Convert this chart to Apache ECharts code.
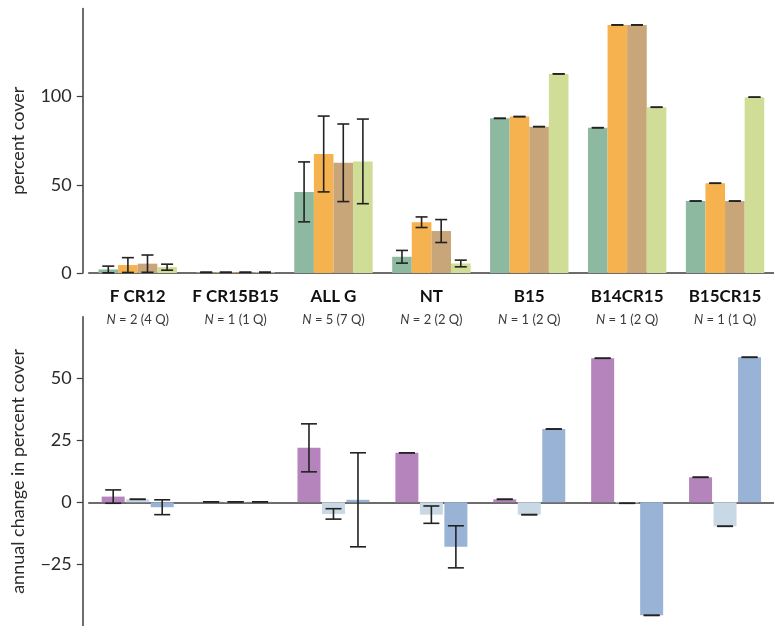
<!DOCTYPE html>
<html>
<head>
<meta charset="utf-8">
<script src="https://cdn.jsdelivr.net/npm/echarts@6/dist/echarts.min.js"></script>
<style>
  html, body { margin: 0; padding: 0; background: #fff; }
  #chart { width: 774px; height: 626px; }
</style>
</head>
<body>
<div id="chart"></div>
<script>
// Site groups along the shared category axis
const categories = ['F CR12', 'F CR15B15', 'ALL G', 'NT', 'B15', 'B14CR15', 'B15CR15'];
const sampleSizes = ['2 (4 Q)', '1 (1 Q)', '5 (7 Q)', '2 (2 Q)', '1 (2 Q)', '1 (2 Q)', '1 (1 Q)'];

// Percent cover, four surveys per group (mean and standard error)
const coverSurvey1 = [2.0, 0.4, 46.0, 9.2, 87.7, 82.4, 40.8];
const coverSurvey2 = [4.5, 0.4, 67.5, 28.8, 88.7, 140.7, 50.9];
const coverSurvey3 = [5.3, 0.4, 62.5, 23.8, 83.0, 140.7, 40.8];
const coverSurvey4 = [3.3, 0.4, 63.3, 5.4, 112.9, 94.0, 99.7];
const coverErr1 = [1.9, 0, 17.0, 3.6, 0, 0, 0];
const coverErr2 = [4.2, 0, 21.5, 3.0, 0, 0, 0];
const coverErr3 = [4.9, 0, 22.0, 6.5, 0, 0, 0];
const coverErr4 = [1.7, 0, 24.0, 1.9, 0, 0, 0];

// Annual change in percent cover, three intervals per group
const changeInterval1 = [2.3, 0.2, 22.0, 20.0, 1.2, 58.2, 10.1];
const changeInterval2 = [1.2, 0.2, -4.7, -5.0, -5.0, -0.4, -9.7];
const changeInterval3 = [-2.0, 0.2, 1.0, -18.0, 29.6, -45.7, 58.6];
const changeErr1 = [2.7, 0, 9.7, 0, 0, 0, 0];
const changeErr2 = [0, 0, 2.1, 3.5, 0, 0, 0];
const changeErr3 = [3.0, 0, 19.0, 8.5, 0, 0, 0];

// Axis ticks
const coverTicks = { min: 0, max: 150, interval: 50 };
const changeTicks = { min: -50, max: 75, interval: 25 };

const FONT = 'Lato';
const AXIS_COLOR = '#3c3c3c';

const coverColors = ['#8cb9a0', '#f6b24f', '#c9a57a', '#cfdd97'];
const changeColors = ['#b684bd', '#c9d8e5', '#98b3d6'];

const TOP_BAR_W = 19.6;
const BOT_BAR_W = 23;
const BOT_GAP = 1.5;

function errorBars(xAxisIndex, yAxisIndex, means, errs, offset, capHalf) {
  return {
    type: 'custom',
    xAxisIndex: xAxisIndex,
    yAxisIndex: yAxisIndex,
    z: 10,
    silent: true,
    data: means.map((m, i) => [i, m - errs[i], m + errs[i]]),
    encode: { x: 0, y: [1, 2] },
    renderItem: function (params, api) {
      const lo = api.coord([api.value(0), api.value(1)]);
      const hi = api.coord([api.value(0), api.value(2)]);
      const x = lo[0] + offset;
      const style = { stroke: '#222', lineWidth: 1.6 };
      return {
        type: 'group',
        children: [
          { type: 'line', shape: { x1: x, y1: hi[1], x2: x, y2: lo[1] }, style: style },
          { type: 'line', shape: { x1: x - capHalf, y1: hi[1], x2: x + capHalf, y2: hi[1] }, style: style },
          { type: 'line', shape: { x1: x - capHalf, y1: lo[1], x2: x + capHalf, y2: lo[1] }, style: style }
        ]
      };
    }
  };
}

const coverMeans = [coverSurvey1, coverSurvey2, coverSurvey3, coverSurvey4];
const coverErrs = [coverErr1, coverErr2, coverErr3, coverErr4];
const changeMeans = [changeInterval1, changeInterval2, changeInterval3];
const changeErrs = [changeErr1, changeErr2, changeErr3];

const series = [];
coverMeans.forEach((vals, k) => {
  series.push({
    type: 'bar', xAxisIndex: 0, yAxisIndex: 0,
    data: vals, barWidth: TOP_BAR_W, barGap: '0%',
    itemStyle: { color: coverColors[k] }
  });
});
changeMeans.forEach((vals, k) => {
  series.push({
    type: 'bar', xAxisIndex: 1, yAxisIndex: 1,
    data: vals, barWidth: BOT_BAR_W, barGap: (BOT_GAP / BOT_BAR_W * 100) + '%',
    itemStyle: { color: changeColors[k] }
  });
});
coverMeans.forEach((vals, k) => {
  series.push(errorBars(0, 0, vals, coverErrs[k], (k - 1.5) * TOP_BAR_W, 6));
});
changeMeans.forEach((vals, k) => {
  series.push(errorBars(1, 1, vals, changeErrs[k], (k - 1) * (BOT_BAR_W + BOT_GAP), 8));
});

const gridLeft = 88.75;
const gridWidth = 689.5;

function yAxisBase(gridIndex, ticks, name) {
  return {
    type: 'value',
    gridIndex: gridIndex,
    min: ticks.min, max: ticks.max, interval: ticks.interval,
    offset: 6,
    splitLine: { show: false },
    axisLine: { show: true, onZero: false, lineStyle: { color: AXIS_COLOR, width: 1.5 } },
    axisTick: { show: true, length: 6, lineStyle: { color: AXIS_COLOR, width: 1.2 } },
    axisLabel: {
      fontFamily: FONT, fontSize: 18, color: '#2a2a2a', margin: 11,
      showMaxLabel: false, showMinLabel: gridIndex === 0,
      formatter: v => String(v).replace('-', '\u2212')
    },
    name: name,
    nameLocation: 'middle',
    nameGap: 56,
    nameTextStyle: { fontFamily: FONT, fontSize: 18, color: '#2a2a2a' }
  };
}

const option = {
  animation: false,
  backgroundColor: '#ffffff',
  grid: [
    { left: gridLeft, width: gridWidth, top: 8.5, height: 264.5, containLabel: false },
    { left: gridLeft, width: gridWidth, top: 316.7, height: 310, containLabel: false }
  ],
  xAxis: [
    {
      type: 'category', gridIndex: 0, data: categories,
      axisLine: { lineStyle: { color: AXIS_COLOR, width: 1.5 } },
      axisTick: { show: false },
      axisLabel: {
        interval: 0, margin: 13,
        formatter: (v, i) => '{name|' + v + '}\n{ni|N}{nv| = ' + sampleSizes[i] + '}',
        rich: {
          name: { fontFamily: FONT, fontSize: 17, fontWeight: 'bold', color: '#111', lineHeight: 22, align: 'center' },
          ni: { fontFamily: FONT, fontSize: 13, fontStyle: 'italic', color: '#3a3a3a', lineHeight: 24 },
          nv: { fontFamily: FONT, fontSize: 13, color: '#3a3a3a', lineHeight: 24 }
        }
      }
    },
    {
      type: 'category', gridIndex: 1, data: categories,
      axisLine: { onZero: true, lineStyle: { color: AXIS_COLOR, width: 1.5 } },
      axisTick: { show: false },
      axisLabel: { show: false }
    }
  ],
  yAxis: [
    yAxisBase(0, coverTicks, 'percent cover'),
    yAxisBase(1, changeTicks, 'annual change in percent cover')
  ],
  series: series
};

const chart = echarts.init(document.getElementById('chart'), null, { renderer: 'canvas' });
chart.setOption(option);
</script>
</body>
</html>
